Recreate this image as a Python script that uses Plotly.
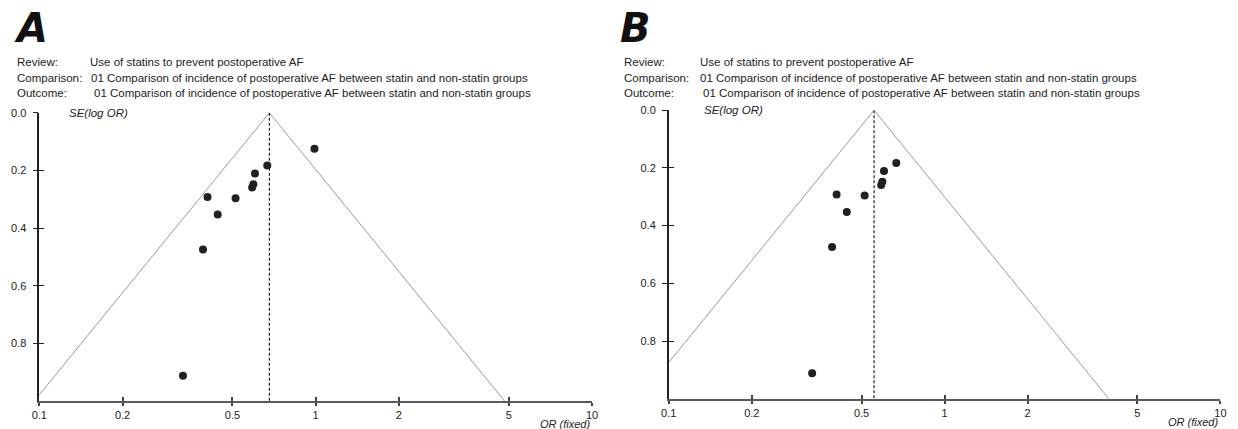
import math
import plotly.graph_objects as go

# ---------------- data ----------------
or_a = [0.99, 0.668, 0.603, 0.595, 0.589, 0.406, 0.513, 0.442, 0.391, 0.331]
se_a = [0.125, 0.183, 0.211, 0.248, 0.259, 0.292, 0.296, 0.353, 0.474, 0.912]
pooled_a = 0.68

or_b = [0.668, 0.603, 0.595, 0.589, 0.406, 0.513, 0.442, 0.391, 0.331]
se_b = [0.183, 0.211, 0.248, 0.259, 0.292, 0.296, 0.353, 0.474, 0.912]
pooled_b = 0.555

se_max = 1.0
x_ticks = [0.1, 0.2, 0.5, 1, 2, 5, 10]
x_tick_text = ["0.1", "0.2", "0.5", "1", "2", "5", "10"]
y_ticks = [0.0, 0.2, 0.4, 0.6, 0.8]
y_tick_text = ["0.0", "0.2", "0.4", "0.6", "0.8"]

header_labels = ["Review:", "Comparison:", "Outcome:"]
header_values = [
    "Use of statins to prevent postoperative AF",
    "01 Comparison of incidence of postoperative AF between statin and non-statin groups",
    "01 Comparison of incidence of postoperative AF between statin and non-statin groups",
]

W, H = 1238, 429
FONT = "Liberation Sans, Arial, Helvetica, sans-serif"
DOT = "#231f20"
TXT = 11
HDR = 11.5

fig = go.Figure()

def add_panel(ors, ses, pooled, xa, ya):
    fx = [pooled * math.exp(-1.96 * se_max), pooled, pooled * math.exp(1.96 * se_max)]
    fy = [se_max, 0.0, se_max]
    fig.add_trace(go.Scatter(x=fx, y=fy, mode="lines", xaxis=xa, yaxis=ya,
                             line=dict(color="#9a9a9a", width=1), hoverinfo="skip",
                             showlegend=False))
    fig.add_trace(go.Scatter(x=[pooled, pooled], y=[0.0, se_max], mode="lines",
                             xaxis=xa, yaxis=ya,
                             line=dict(color="#222", width=1.2, dash="3px,2px"),
                             hoverinfo="skip", showlegend=False))
    fig.add_trace(go.Scatter(x=ors, y=ses, mode="markers", xaxis=xa, yaxis=ya,
                             marker=dict(color=DOT, size=8), showlegend=False))

add_panel(or_a, se_a, pooled_a, "x", "y")
add_panel(or_b, se_b, pooled_b, "x2", "y2")

# invisible anchors for the overlay axes that draw the inner half of the crossing ticks
for xa, ya in [("x3", "y"), ("x", "y3"), ("x4", "y2"), ("x2", "y4")]:
    fig.add_trace(go.Scatter(x=[x_ticks[0]], y=[se_max], mode="markers", xaxis=xa, yaxis=ya,
                             marker=dict(opacity=0), hoverinfo="skip", showlegend=False))

def xaxis_cfg(dom, anchor):
    return dict(domain=dom, anchor=anchor, type="log", range=[-1, 1],
                tickvals=x_ticks, ticktext=x_tick_text,
                ticks="outside", ticklen=3, tickwidth=1.5, tickcolor="#444",
                ticklabelstandoff=0,
                showline=True, linecolor="#5a5a5a", linewidth=2,
                showgrid=False, zeroline=False,
                tickfont=dict(family=FONT, size=TXT, color="#222"))

def xaxis_in(over, anchor):
    return dict(overlaying=over, anchor=anchor, type="log", range=[-1, 1],
                tickvals=x_ticks, ticks="inside", ticklen=4, tickwidth=1.5,
                tickcolor="#444", showticklabels=False, showline=False,
                showgrid=False, zeroline=False)

def yaxis_cfg(dom, anchor):
    return dict(domain=dom, anchor=anchor, range=[se_max, 0.0],
                tickvals=y_ticks, ticktext=y_tick_text,
                ticks="outside", ticklen=5, tickwidth=1.2, tickcolor="#222",
                ticklabelstandoff=4,
                showline=True, linecolor="#222", linewidth=1.5,
                showgrid=False, zeroline=False,
                tickfont=dict(family=FONT, size=TXT, color="#222"))

def yaxis_in(over, anchor):
    return dict(overlaying=over, anchor=anchor, range=[se_max, 0.0],
                tickvals=y_ticks, ticks="inside", ticklen=5, tickwidth=1.2,
                tickcolor="#222", showticklabels=False, showline=False,
                showgrid=False, zeroline=False)

dom_xa = [31.7 / W, 590.7 / W]
dom_xb = [668.3 / W, 1226.3 / W]
dom_ya = [1 - 400.7 / H, 1 - 108.3 / H]
dom_yb = [1 - 398.3 / H, 1 - 105.7 / H]

ann = []
def header(letter, x_letter, x_label, x_vals, ys):
    ann.append(dict(text="<b><i>%s</i></b>" % letter, xref="paper", yref="paper",
                    x=x_letter / W, y=1 - 22 / H, xanchor="left", yanchor="middle",
                    showarrow=False,
                    font=dict(family="DejaVu Sans, Liberation Sans, sans-serif",
                              size=40, color="#111")))
    for lab, val, xv, yy in zip(header_labels, header_values, x_vals, ys):
        ann.append(dict(text=lab, xref="paper", yref="paper", x=x_label / W,
                        y=1 - yy / H, xanchor="left", yanchor="middle", showarrow=False,
                        font=dict(family=FONT, size=HDR, color="#222")))
        ann.append(dict(text=val, xref="paper", yref="paper", x=xv / W,
                        y=1 - yy / H, xanchor="left", yanchor="middle", showarrow=False,
                        font=dict(family=FONT, size=HDR, color="#222")))

header("A", 4, 7, [81, 82, 85], [57, 73, 88])
header("B", 617, 621, [698, 698, 701], [57, 73, 88])

for x_se, yref, x_or_dom, y_or in [(60, "y", "x domain", 424), (701.5, "y2", "x2 domain", 422)]:
    ann.append(dict(text="<i>SE(log OR)</i>", xref="paper", yref=yref, x=x_se / W, y=0.0,
                    xanchor="left", yanchor="middle", showarrow=False,
                    font=dict(family=FONT, size=11.5, color="#222")))
    ann.append(dict(text="<i>OR (fixed)</i>", xref=x_or_dom, yref="paper", x=1.0,
                    y=1 - y_or / H, xanchor="right", yanchor="middle", showarrow=False,
                    font=dict(family=FONT, size=TXT, color="#222")))

fig.update_layout(
    width=W, height=H,
    margin=dict(l=0, r=0, t=0, b=0),
    paper_bgcolor="white", plot_bgcolor="white",
    xaxis=xaxis_cfg(dom_xa, "y"),
    yaxis=yaxis_cfg(dom_ya, "x"),
    xaxis2=xaxis_cfg(dom_xb, "y2"),
    yaxis2=yaxis_cfg(dom_yb, "x2"),
    xaxis3=xaxis_in("x", "y"),
    yaxis3=yaxis_in("y", "x"),
    xaxis4=xaxis_in("x2", "y2"),
    yaxis4=yaxis_in("y2", "x2"),
    annotations=ann,
    showlegend=False,
)

fig.write_html(
    "out.html",
    config={"displayModeBar": False},
    post_script="document.body.style.margin='0';document.body.style.overflow='hidden';",
)
